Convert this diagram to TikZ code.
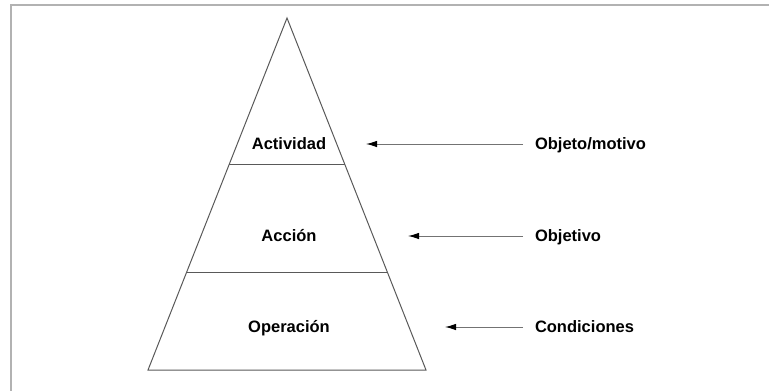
\documentclass[tikz,border=0pt]{standalone}
\usepackage{fontspec}
\setmainfont{Liberation Sans}
\usetikzlibrary{arrows.meta}
\usetikzlibrary{positioning}
\usetikzlibrary{calc}
\tikzset{
    level/.style={font=\fontsize{16.5}{19}\selectfont\bfseries, inner sep=0pt,
        text height=11.8pt, text depth=0pt},
    cause/.style={font=\fontsize{16.5}{19}\selectfont\bfseries, inner sep=0pt,
        text height=11.8pt, text depth=0pt, anchor=west, outer xsep=12pt},
    pointer/.style={draw=black!55, line width=1pt,
        -{Latex[length=11pt,width=6.5pt,black]}},
    edge/.style={draw=black!65, line width=1pt},
    frame/.style={draw=black!30, line width=1.5pt},
}

\begin{document}
\begin{tikzpicture}[x=1pt, y=-1pt]
	\useasboundingbox (0,0) rectangle (769,391);
	\draw[frame] (11,391) -- (11,5) -- (769,5);
	% pyramid
	\coordinate (apex) at (287,18);
	\coordinate (baseL) at (148,370);
	\coordinate (baseR) at (426,370);
	\draw[edge] (apex) -- (baseR) -- (baseL) -- cycle;
	\draw[edge] ($(apex)!0.4148!(baseL)$) -- ($(apex)!0.4148!(baseR)$);
	\draw[edge] ($(apex)!0.7216!(baseL)$) -- ($(apex)!0.7216!(baseR)$);
	\node[level] (actividad) at (289,144) {Actividad};
	\node[level] (accion) at (289,236) {Acción};
	\node[level] (operacion) at (289,327) {Operación};
	% labels on the right
	\node[cause] (motivo) at (523,144) {Objeto/motivo};
	\node[cause] (objetivo) at (523,236) {Objetivo};
	\node[cause] (condiciones) at (523,327) {Condiciones};
	\coordinate (tipA) at (366,144);
	\coordinate (tipB) at (408,236);
	\coordinate (tipC) at (445,327);
	\draw[pointer] (motivo.west) -- (tipA);
	\draw[pointer] (objetivo.west) -- (tipB);
	\draw[pointer] (condiciones.west) -- (tipC);
\end{tikzpicture}
\end{document}
